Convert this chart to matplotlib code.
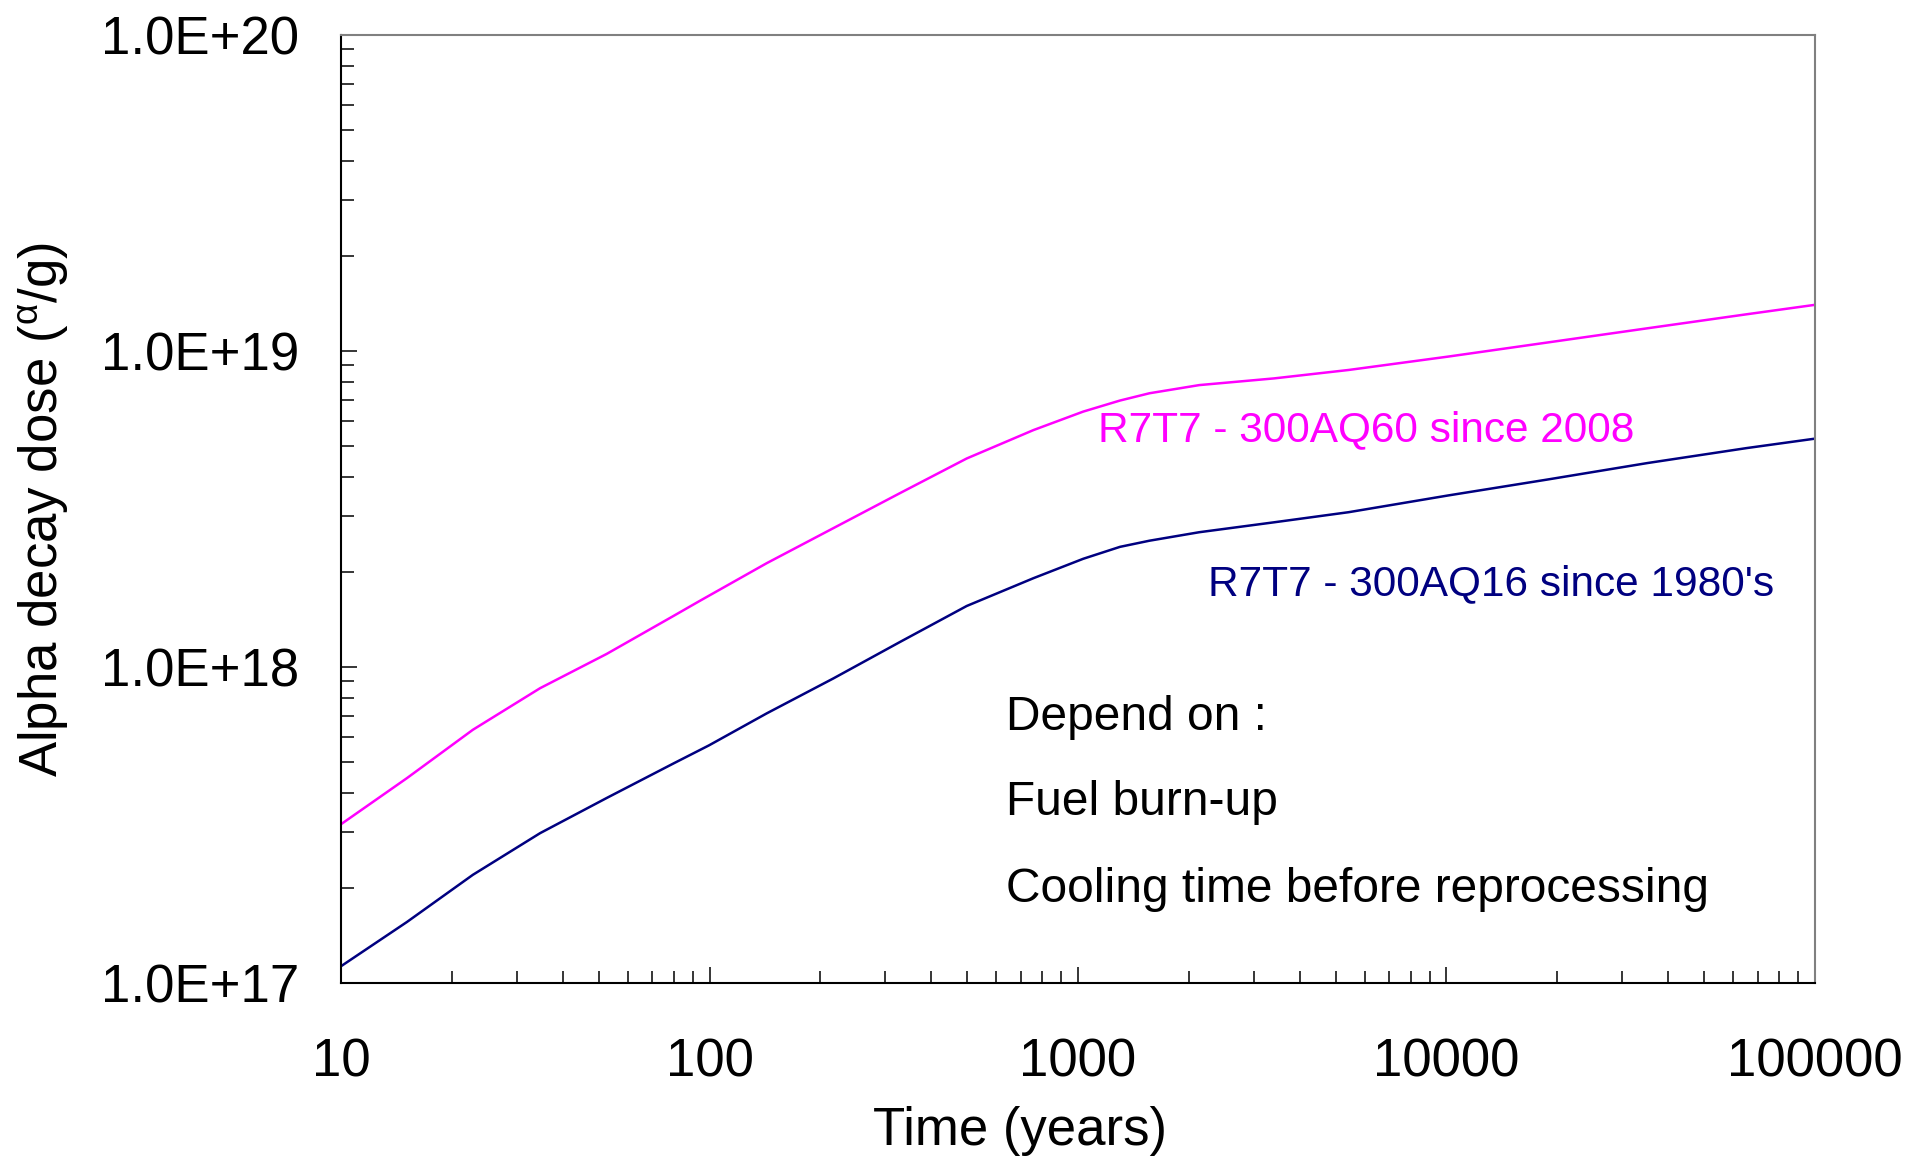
import matplotlib
matplotlib.use("Agg")
import matplotlib.pyplot as plt
from matplotlib.ticker import FixedLocator, FixedFormatter, LogLocator, NullFormatter

plt.rcParams["font.family"] = ["Liberation Sans", "DejaVu Sans"]
plt.rcParams["mathtext.fontset"] = "custom"
plt.rcParams["mathtext.rm"] = "Liberation Sans"
plt.rcParams["mathtext.it"] = "Liberation Sans:italic"

# valeurs
t_aq60 = [10, 15.1, 22.8, 34.7, 52.6, 79.8, 94.2, 142.9, 216.8, 328.8, 499, 757, 1033,
          1300, 1563, 2133, 3404, 5430, 10100, 18800, 35100, 65300, 100000]
dose_aq60 = [3.18e17, 4.45e17, 6.33e17, 8.57e17, 1.10e18, 1.45e18, 1.62e18, 2.13e18,
             2.75e18, 3.55e18, 4.57e18, 5.62e18, 6.43e18, 6.97e18, 7.35e18, 7.80e18,
             8.19e18, 8.71e18, 9.6e18, 1.064e19, 1.18e19, 1.307e19, 1.40e19]

t_aq16 = [10, 15.1, 22.8, 34.7, 52.6, 79.8, 99.7, 142.9, 216.8, 328.8, 499, 757, 1033,
          1300, 1563, 2133, 3404, 5430, 10100, 18800, 35100, 65300, 100000]
dose_aq16 = [1.13e17, 1.56e17, 2.20e17, 2.98e17, 3.85e17, 4.95e17, 5.65e17, 7.13e17,
             9.2e17, 1.20e18, 1.56e18, 1.91e18, 2.20e18, 2.40e18, 2.51e18, 2.67e18,
             2.87e18, 3.09e18, 3.49e18, 3.92e18, 4.42e18, 4.93e18, 5.28e18]

x_ticks = [10, 100, 1000, 10000, 100000]
x_labels = ["10", "100", "1000", "10000", "100000"]
y_ticks = [1e17, 1e18, 1e19, 1e20]
y_labels = ["1.0E+17", "1.0E+18", "1.0E+19", "1.0E+20"]

label_aq60 = "R7T7 - 300AQ60 since 2008"
label_aq16 = "R7T7 - 300AQ16 since 1980's"
notes = ["Depend on :", "Fuel burn-up", "Cooling time before reprocessing"]

fig = plt.figure(figsize=(19.08, 11.60), dpi=100)
ax = fig.add_axes([341 / 1908, 1 - 983 / 1160, (1815 - 341) / 1908, (983 - 35) / 1160])

ax.plot(t_aq60, dose_aq60, color="#FF00FF", lw=1.8)
ax.plot(t_aq16, dose_aq16, color="#000080", lw=1.8)

ax.set_xscale("log")
ax.set_yscale("log")
ax.set_xlim(10, 100000)
ax.set_ylim(1e17, 1e20)

ax.xaxis.set_major_locator(FixedLocator(x_ticks))
ax.xaxis.set_major_formatter(FixedFormatter(x_labels))
ax.yaxis.set_major_locator(FixedLocator(y_ticks))
ax.yaxis.set_major_formatter(FixedFormatter(y_labels))
ax.xaxis.set_minor_locator(LogLocator(base=10, subs=range(2, 10), numticks=20))
ax.yaxis.set_minor_locator(LogLocator(base=10, subs=range(2, 10), numticks=20))
ax.xaxis.set_minor_formatter(NullFormatter())
ax.yaxis.set_minor_formatter(NullFormatter())

ax.tick_params(axis="both", which="both", direction="in", top=False, right=False,
               width=1.1, color="black")
ax.tick_params(axis="both", which="major", length=11.5, labelsize=38)
ax.tick_params(axis="both", which="minor", length=9)
ax.tick_params(axis="x", which="major", pad=39)
ax.tick_params(axis="y", which="major", pad=30)

for side in ["left", "bottom"]:
    ax.spines[side].set_color("black")
    ax.spines[side].set_linewidth(1.5)
for side in ["top", "right"]:
    ax.spines[side].set_color("#808080")
    ax.spines[side].set_linewidth(1.5)

ax.set_xlabel("Time (years)", fontsize=38)
ax.xaxis.set_label_coords(0.4606, -0.13)
ax.set_ylabel(r"Alpha decay dose ($^{\mathrm{\alpha}}$/g)", fontsize=38, labelpad=22)

ax.text(1130, 5.6e18, label_aq60, color="#FF00FF", fontsize=30.5, va="center", ha="left")
ax.text(2255, 1.83e18, label_aq16, color="#000080", fontsize=30.5, va="center", ha="left")
for y, txt in zip([6.9e17, 3.73e17, 1.97e17], notes):
    ax.text(638, y, txt, color="black", fontsize=34.5, va="center", ha="left")

plt.savefig("out.png", dpi=100)
plt.close()
